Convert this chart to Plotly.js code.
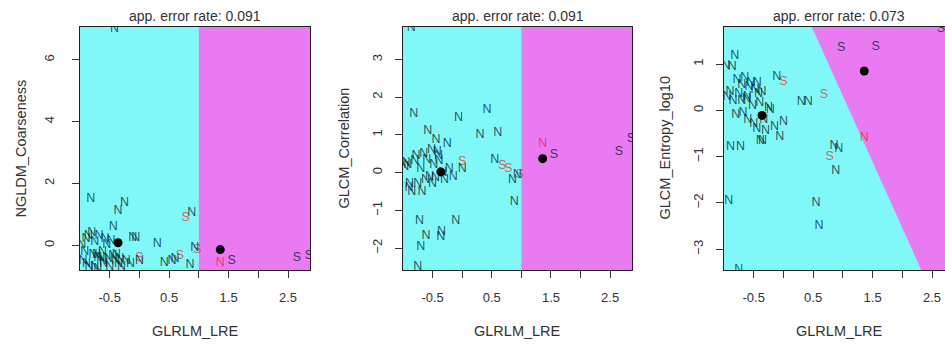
<!DOCTYPE html>
<html><head><meta charset="utf-8">
<script src="https://cdn.plot.ly/plotly-3.0.1.min.js"></script>
<style>
html,body{margin:0;padding:0;overflow:hidden;background:#fff;width:945px;height:344px}
#chart{width:960px;height:344px}
</style>
</head><body><div id="chart"></div>
<script>
// ---------------- data ----------------
const classes = ["S","S","S","S","S","S","S",
  "N","N","N","N","N","N","N","N",
  "N","N","N","N","N","N","N","N","N","N","N","N","N","N","N","N","N","N","N","N",
  "N","N","N","N","N","N","N","N","N","N","N","N","N","N","N","N","N","N","N","N"];
// shared x feature
const glrlmLRE = [0.0,0.68,0.78,0.97,1.55,2.65,2.85,
  0.30,0.42,0.55,0.60,0.85,0.88,0.93,1.36,
  -0.42,-0.82,-0.86,-0.44,-0.36,-0.25,-0.11,-0.06,0.0,-0.72,-0.61,-0.35,-0.70,-0.75,-0.58,-0.92,
  -0.89,-0.39,-0.97,-0.95,-0.90,-0.85,-0.80,-0.78,-0.75,-0.70,-0.68,-0.65,-0.62,-0.60,-0.55,-0.52,
  -0.50,-0.48,-0.45,-0.40,-0.33,-0.30,-0.22,-0.15];
const ngldmCoarseness = [-0.41,-0.35,0.88,-0.14,-0.52,-0.41,-0.35,
  0.05,-0.57,-0.52,-0.45,-0.62,1.05,-0.10,-0.57,
  7.0,1.5,0.3,0.61,1.1,1.37,0.24,0.24,-0.5,-0.3,-0.5,-0.6,-0.4,-0.7,0.2,-0.2,
  -0.6,-0.3,0.0,-0.5,0.2,-0.7,0.4,-0.3,0.1,-0.75,0.3,-0.4,-0.2,-0.6,0.0,-0.45,
  -0.7,0.15,-0.35,-0.5,-0.45,-0.7,-0.5,-0.6];
const glcmCorrelation = [0.28,0.19,0.10,-0.05,0.46,0.55,0.90,
  0.99,1.66,0.33,1.05,-0.20,-0.78,-0.05,0.77,
  0.55,1.57,3.83,0.88,-1.71,0.77,-1.27,1.44,0.1,-1.27,-1.67,-1.58,-1.98,-2.51,1.12,0.2,
  -0.3,0.3,0.15,0.25,-0.4,-0.5,0.3,0.45,-0.3,0.1,-0.5,0.5,-0.2,0.35,-0.1,0.6,
  -0.3,0.2,-0.15,0.45,0.0,-0.2,0.1,-0.1];
const glcmEntropyLog10 = [0.62,0.33,-1.0,1.34,1.38,1.75,1.53,
  0.18,0.18,-1.99,-2.5,-0.76,-1.3,-0.83,-0.6,
  0.35,1.17,0.94,0.6,0.4,0.05,0.72,-0.58,-0.25,-0.8,0.3,-0.65,0.2,-3.44,0.5,-1.96,
  -0.8,-0.65,0.95,0.3,0.4,0.2,-0.1,0.65,0.35,0.55,-0.05,0.7,0.25,-0.2,0.6,0.1,
  -0.3,0.45,-0.4,0.15,-0.2,-0.45,0.0,-0.35];

// class centroids (N, S)
const centroidX  = [-0.36, 1.36];
const centroidY1 = [0.08, -0.14];
const centroidY2 = [0.02, 0.37];
const centroidY3 = [-0.11, 0.85];

// partition boundary per panel: x where it meets top and bottom of panel
const boundaryTopX    = [1.0, 1.0, 0.478];
const boundaryBottomX = [1.0, 1.0, 2.32];

const xRange = [-1.0, 2.87];
const yRanges = [[-0.80, 7.06], [-2.58, 3.86], [-3.45, 1.80]];

const xTickVals = [-0.5,0,0.5,1,1.5,2,2.5];
const xTickText = ["-0.5","","0.5","","1.5","","2.5"];
const yTickVals = [[0,2,4,6],[-2,-1,0,1,2,3],[-3,-2,-1,0,1]];

const panelTitles = ["app. error rate: 0.091","app. error rate: 0.091","app. error rate: 0.073"];
const yTitles = ["NGLDM_Coarseness","GLCM_Correlation","GLCM_Entropy_log10"];
const xTitle = "GLRLM_LRE";

// ---------------- layout geometry ----------------
const W = 960, H = 344;
const panelPx = [[80,310],[403,632],[724,954]];
const topPx = 27, botPx = 270;
const FONT = "Liberation Sans, Arial, sans-serif";
const CYAN = "#80F8F8", MAGENTA = "#EA7AF2";
const BLACK_T = "rgba(0,20,30,0.74)", RED_T = "rgba(255,0,0,0.62)";

const ys = [ngldmCoarseness, glcmCorrelation, glcmEntropyLog10];
const cys = [centroidY1, centroidY2, centroidY3];

const traces = [];
const layout = {
  width: W, height: H, margin:{l:0,r:0,t:0,b:0},
  paper_bgcolor:"#fff", plot_bgcolor: CYAN, showlegend:false,
  font:{family:FONT, color:"#333"}, annotations:[]
};

for (let p=0;p<3;p++){
  const sfx = p===0 ? "" : String(p+1);
  const xa = "x"+sfx, ya = "y"+sfx;
  const [ymin,ymax] = yRanges[p];
  const tx = boundaryTopX[p], bx = boundaryBottomX[p];
  // magenta region (S) – right of boundary
  traces.push({type:"scatter", xaxis:xa, yaxis:ya, mode:"lines", fill:"toself",
    x:[tx, xRange[1]+1, xRange[1]+1, bx, tx], y:[ymax, ymax, ymin, ymin, ymax],
    line:{width:0}, fillcolor:MAGENTA, hoverinfo:"skip"});
  // point labels coloured by correctness of partition
  const yv = ys[p];
  const cols = glrlmLRE.map((x,i)=>{
    const t = (ymax - yv[i])/(ymax-ymin);
    const bxAt = tx + t*(bx-tx);
    const pred = x > bxAt ? "S" : "N";
    return pred===classes[i] ? BLACK_T : RED_T;
  });
  traces.push({type:"scatter", xaxis:xa, yaxis:ya, mode:"text", x:glrlmLRE, y:yv,
    text:classes, textposition:"middle center", cliponaxis:true,
    textfont:{family:FONT, size:12.5, color:cols}, hoverinfo:"skip"});
  traces.push({type:"scatter", xaxis:xa, yaxis:ya, mode:"markers", x:centroidX, y:cys[p],
    marker:{color:"#000", size:9}, hoverinfo:"skip"});

  const d0 = panelPx[p][0]/W, d1 = panelPx[p][1]/W;
  layout["xaxis"+sfx] = {domain:[d0,d1], anchor:ya, range:xRange, showgrid:false, zeroline:false,
    showline:true, mirror:true, linecolor:"#222", linewidth:1.3,
    ticks:"outside", ticklen:7, tickcolor:"#333", tickwidth:1,
    tickvals:xTickVals, ticktext:xTickText, ticklabelstandoff:8,
    tickfont:{family:FONT, size:13, color:"#333"}};
  layout["yaxis"+sfx] = {domain:[1-botPx/H, 1-topPx/H], anchor:xa, range:yRanges[p], showgrid:false, zeroline:false,
    showline:true, mirror:true, linecolor:"#222", linewidth:1.3,
    ticks:"outside", ticklen:7, tickcolor:"#333", tickwidth:1,
    tickvals:yTickVals[p], tickangle:-90, ticklabelstandoff: p===0?13:8,
    tickfont:{family:FONT, size:13, color:"#333"}};
  const cx = (panelPx[p][0]+panelPx[p][1])/2;
  layout.annotations.push({xref:"paper", yref:"paper", x:cx/W, y:1-16/H, text:panelTitles[p],
    showarrow:false, xanchor:"center", yanchor:"middle", font:{family:FONT,size:14,color:"#333"}});
  layout.annotations.push({xref:"paper", yref:"paper", x:cx/W, y:1-331/H, text:xTitle,
    showarrow:false, xanchor:"center", yanchor:"middle", font:{family:FONT,size:14.5,color:"#333"}});
  layout.annotations.push({xref:"paper", yref:"paper", x:(panelPx[p][0]-60)/W, y:1-((topPx+botPx)/2)/H,
    text:yTitles[p], textangle:-90, showarrow:false, xanchor:"center", yanchor:"middle",
    font:{family:FONT,size:14.5,color:"#333"}});
}

Plotly.newPlot("chart", traces, layout, {staticPlot:true, displayModeBar:false});
</script>
</body></html>
